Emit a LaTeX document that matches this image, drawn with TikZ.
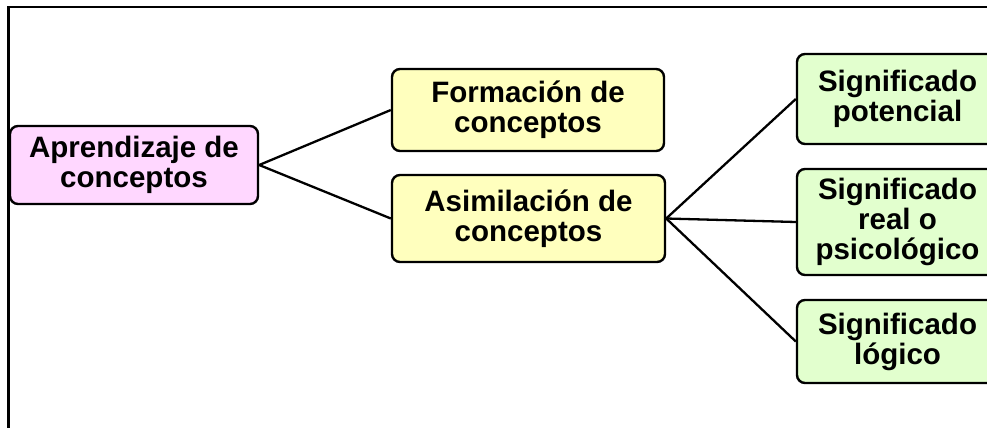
\documentclass[tikz,border=0pt]{standalone}
\usepackage{fontspec}
\setmainfont{Liberation Sans}
\definecolor{pinkfill}{RGB}{255,215,255}
\definecolor{yellowfill}{RGB}{255,255,190}
\definecolor{greenfill}{RGB}{226,255,206}
\begin{document}
\begin{tikzpicture}[x=1pt,y=-1pt,
  box/.style={draw=black,line width=2.4pt,rounded corners=8pt,align=center,
    inner sep=0pt,font=\fontsize{29.5}{30}\selectfont\bfseries},
  conn/.style={draw=black,line width=2.3pt}]
\useasboundingbox (0,0) rectangle (987,428);
\clip (0,0) rectangle (987,428);
\fill[white] (0,0) rectangle (987,428);
\draw[line width=1.8pt] (8,7) -- (987,7);
\draw[line width=2.8pt] (8.6,6.2) -- (8.6,428);
\node[box,fill=pinkfill,minimum width=248pt,minimum height=78pt] (apr) at (134,165) {Aprendizaje de\\conceptos};
\node[box,fill=yellowfill,minimum width=272pt,minimum height=82pt] (form) at (528,110) {Formación de\\conceptos};
\node[box,fill=yellowfill,minimum width=273pt,minimum height=87pt] (asim) at (528.5,218.5) {Asimilación de\\conceptos};
\node[box,fill=greenfill,minimum width=201pt,minimum height=90pt] (pot) at (897.5,99) {Significado\\potencial};
\node[box,fill=greenfill,minimum width=201pt,minimum height=106pt] (real) at (897.5,222) {Significado\\real o\\psicológico};
\node[box,fill=greenfill,minimum width=201pt,minimum height=83pt] (log) at (897.5,341.5) {Significado\\lógico};
\draw[conn] (apr.east) -- (form.west);
\draw[conn] (apr.east) -- (asim.west);
\draw[conn] (asim.east) -- (pot.west);
\draw[conn] (asim.east) -- (real.west);
\draw[conn] (asim.east) -- (log.west);
\end{tikzpicture}
\end{document}
